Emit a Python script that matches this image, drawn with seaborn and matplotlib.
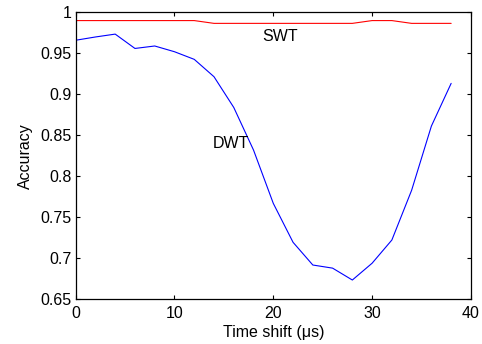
import matplotlib
matplotlib.use("Agg")
import matplotlib.pyplot as plt
import seaborn as sns
import pandas as pd
from matplotlib.ticker import FixedLocator, FuncFormatter

shift = [0, 2, 4, 6, 8, 10, 12, 14, 16, 18, 20, 22, 24, 26, 28, 30, 32, 34, 36, 38]
dwt = [0.966, 0.970, 0.9735, 0.956, 0.959, 0.952, 0.9427, 0.9215, 0.884, 0.832,
       0.767, 0.7195, 0.6918, 0.688, 0.6735, 0.694, 0.7223, 0.783, 0.8613, 0.9134]
swt = [0.990, 0.990, 0.990, 0.990, 0.990, 0.990, 0.990, 0.9866, 0.9866, 0.9866,
       0.9866, 0.9866, 0.9866, 0.9866, 0.9866, 0.990, 0.990, 0.9866, 0.9866, 0.9866]
methods = ["SWT", "DWT"]
colors = {"SWT": "#ff0000", "DWT": "#0000ff"}
x_ticks = [0, 10, 20, 30, 40]
y_ticks = [0.65, 0.7, 0.75, 0.8, 0.85, 0.9, 0.95, 1.0]

df = pd.concat([
    pd.DataFrame({"shift": shift, "acc": swt, "method": "SWT"}),
    pd.DataFrame({"shift": shift, "acc": dwt, "method": "DWT"}),
])

sns.set_style("ticks")
plt.rcParams["font.family"] = ["Liberation Sans", "DejaVu Sans"]
plt.rcParams["font.size"] = 11.5
plt.rcParams["text.color"] = "black"
plt.rcParams["axes.labelcolor"] = "black"

fs = 11.5
fig = plt.figure(figsize=(4.82, 3.44), dpi=100)
ax = fig.add_axes([0.157, 0.130, 0.820, 0.834])
sns.lineplot(data=df, x="shift", y="acc", hue="method", palette=colors,
             hue_order=methods, ax=ax, linewidth=0.8, legend=False)

ax.set_xlim(0, 40)
ax.set_ylim(0.65, 1.0)
ax.xaxis.set_major_locator(FixedLocator(x_ticks))
ax.yaxis.set_major_locator(FixedLocator(y_ticks))
ax.yaxis.set_major_formatter(FuncFormatter(lambda v, p: f"{v:g}"))
ax.tick_params(direction="in", top=True, right=True, length=3, width=0.8,
               labelsize=fs, colors="black", pad=3)
ax.tick_params(axis="x", pad=5)
for s in ax.spines.values():
    s.set_visible(True)
    s.set_linewidth(0.9)
    s.set_color("black")

ax.set_xlabel("Time shift (μs)", fontsize=fs, labelpad=3, color="black")
ax.set_ylabel("Accuracy", fontsize=fs, labelpad=5, color="black")

ax.text(18.9, 0.971, "SWT", fontsize=fs, va="center", ha="left", color="black")
ax.text(13.9, 0.840, "DWT", fontsize=fs, va="center", ha="left", color="black")

fig.savefig("out.png", dpi=100)
